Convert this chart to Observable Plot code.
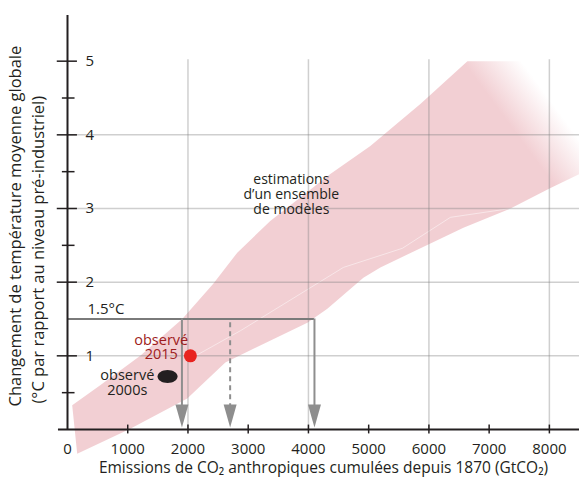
<!DOCTYPE html>
<html>
<head>
<meta charset="utf-8">
<script src="https://cdn.jsdelivr.net/npm/d3@7"></script>
<script src="https://cdn.jsdelivr.net/npm/@observablehq/plot@0.6"></script>
<style>
  body { margin: 0; background: #fff; }
  svg { font-family: "Open Sans", sans-serif; }
</style>
</head>
<body>
<div id="chart"></div>
<script>
// ---- data ----
const xTicks = [0, 1000, 2000, 3000, 4000, 5000, 6000, 7000, 8000];
const xGrid = [2000, 4000, 6000, 8000];
const yTicks = [1, 2, 3, 4, 5];
const yMinorTicks = [0.5, 2.5, 3.5, 4.5];
const yGrid = [1, 2, 3, 4];

// model ensemble band (upper edge left→right, lower edge left→right)
const bandUpperX = [78, 543, 1208, 1905, 2420, 2818, 3366, 4363, 5028, 5526, 5858, 6639, 8500];
const bandUpperY = [0.33, 0.60, 1.00, 1.50, 1.98, 2.40, 2.83, 3.47, 3.85, 4.19, 4.42, 5.00, 5.00];
const bandLowerX = [161, 1042, 1988, 2620, 3982, 4314, 4912, 5194, 6573, 7354, 8002, 8500];
const bandLowerY = [-0.33, 0.01, 0.42, 0.91, 1.45, 1.64, 2.06, 2.20, 2.74, 3.00, 3.27, 3.47];

// faint individual model line inside the band
const modelLineX = [2038, 2869, 4580, 5560, 6357, 7354];
const modelLineY = [0.96, 1.34, 2.20, 2.46, 2.88, 3.00];

const targetTemp = 1.5;
const budgetSolid = [1900, 4100];
const budgetDashed = [2700];

const obs2015 = {x: 2040, y: 1.0};
const obs2000s = {x: 1661, y: 0.72};

const xLabel = "Emissions de CO\u2082 anthropiques cumulées depuis 1870 (GtCO\u2082)";
const yLabel1 = "Changement de température moyenne globale";
const yLabel2 = "(°C par rapport au niveau pré-industriel)";

// ---- build ----
const bandPts = bandUpperX.map((x, i) => ({x, y: bandUpperY[i]}))
  .concat(bandLowerX.map((x, i) => ({x, y: bandLowerY[i]})).reverse());
const modelPts = modelLineX.map((x, i) => ({x, y: modelLineY[i]}));

const arrowHead = {draw(ctx) { ctx.moveTo(-6.5, -23); ctx.lineTo(6.5, -23); ctx.lineTo(0, 0); ctx.closePath(); }};
const ellipse = {draw(ctx) {
  const rx = 10, ry = 6.5, k = 0.5523;
  ctx.moveTo(rx, 0);
  ctx.bezierCurveTo(rx, ry * k, rx * k, ry, 0, ry);
  ctx.bezierCurveTo(-rx * k, ry, -rx, ry * k, -rx, 0);
  ctx.bezierCurveTo(-rx, -ry * k, -rx * k, -ry, 0, -ry);
  ctx.bezierCurveTo(rx * k, -ry, rx, -ry * k, rx, 0);
  ctx.closePath();
}};

const ink = "#231f20";
const arrowGray = "#8e8e8e";

const svg = Plot.plot({
  width: 579,
  height: 483,
  marginLeft: 67,
  marginRight: 0,
  marginTop: 15,
  marginBottom: 54,
  x: {domain: [0, 8500], axis: null},
  y: {domain: [0, 5.62], axis: null},
  style: {fontFamily: "'Open Sans', sans-serif", fontSize: "14px", color: ink, background: "#fff"},
  marks: [
    Plot.line(bandPts, {x: "x", y: "y", fill: "url(#bandFade)", stroke: "none", curve: "linear"}),
    Plot.line(modelPts, {x: "x", y: "y", stroke: "#fff", strokeOpacity: 0.6, strokeWidth: 0.8}),
    // grid
    Plot.ruleY(yGrid, {x1: 0, x2: 8500, stroke: "#808080", strokeOpacity: 0.38, strokeWidth: 1.5}),
    Plot.ruleX(xGrid, {y1: 0, y2: 5.02, stroke: "#808080", strokeOpacity: 0.38, strokeWidth: 1.5}),
    // 1.5°C threshold and budget arrows
    Plot.ruleY([targetTemp], {x1: 0, x2: budgetSolid[1], stroke: "#7a7a7a", strokeWidth: 2}),
    Plot.ruleX(budgetSolid, {y1: 0.28, y2: targetTemp, stroke: arrowGray, strokeWidth: 2}),
    Plot.ruleX(budgetDashed, {y1: 0.28, y2: targetTemp, stroke: arrowGray, strokeWidth: 2, strokeDasharray: "5,4"}),
    Plot.dot(budgetSolid.concat(budgetDashed), {x: d => d, y: 0, dy: -2, symbol: arrowHead, fill: arrowGray, stroke: "none"}),
    // observations
    Plot.dot([obs2015], {x: "x", y: "y", r: 6.5, fill: "#e8231f", stroke: "none"}),
    Plot.dot([obs2000s], {x: "x", y: "y", symbol: ellipse, fill: ink, stroke: "none"}),
    Plot.text([obs2015], {x: 1556, y: 1.11, text: () => "observé\n2015", fill: "#9e1c20", fontSize: 14.5, lineHeight: 0.97}),
    Plot.text([obs2000s], {x: 993, y: 0.63, text: () => "observé\n2000s", fill: ink, fontSize: 14.5, lineHeight: 1.03}),
    Plot.text(["estimations\nd\u2019un ensemble\nde modèles"], {x: 3716, y: 3.2, text: d => d, fill: ink, fontSize: 14, lineHeight: 1.07}),
    Plot.text(["1.5°C"], {x: 0, y: targetTemp, text: d => d, dx: 20, dy: -10, textAnchor: "start", fill: ink, fontSize: 15}),
    // axes
    Plot.ruleY([0], {x1: -150, x2: 8500, stroke: ink, strokeWidth: 2}),
    Plot.ruleX([0], {y1: 0, y2: 5.62, stroke: ink, strokeWidth: 2}),
    Plot.ruleY(yTicks, {x1: -170, x2: 165, stroke: ink, strokeWidth: 1.5}),
    Plot.ruleY(yMinorTicks, {x1: -85, x2: 125, stroke: ink, strokeWidth: 1.5}),
    Plot.ruleX(xTicks.filter(d => d > 0), {y1: -0.06, y2: 0.06, stroke: ink, strokeWidth: 1.5}),
    Plot.text(yTicks, {x: 0, y: d => d, text: d => String(d), dx: 18, textAnchor: "start", fill: ink, fontSize: 15}),
    Plot.text(xTicks, {x: d => d, y: 0, text: d => String(d), dy: 20, fill: ink, fontSize: 15}),
    Plot.text([xLabel], {frameAnchor: "bottom", text: d => d, dy: 43, fill: ink, fontSize: 15.5}),
    Plot.text([yLabel1], {frameAnchor: "bottom-left", text: d => d, rotate: -90, textAnchor: "start", dx: -47, dy: -23, fill: ink, fontSize: 16.5}),
    Plot.text([yLabel2], {frameAnchor: "bottom-left", text: d => d, rotate: -90, textAnchor: "start", dx: -24, dy: -26, fill: ink, fontSize: 16.5})
  ]
});

const defs = d3.select(svg).insert("defs", ":first-child");
const grad = defs.append("linearGradient")
  .attr("id", "bandFade")
  .attr("gradientUnits", "userSpaceOnUse")
  .attr("x1", 467).attr("y1", 67).attr("x2", 505).attr("y2", 39);
grad.append("stop").attr("offset", 0).attr("stop-color", "#f2cfd3").attr("stop-opacity", 1);
grad.append("stop").attr("offset", 1).attr("stop-color", "#f2cfd3").attr("stop-opacity", 0);

document.getElementById("chart").appendChild(svg);
</script>
</body>
</html>
